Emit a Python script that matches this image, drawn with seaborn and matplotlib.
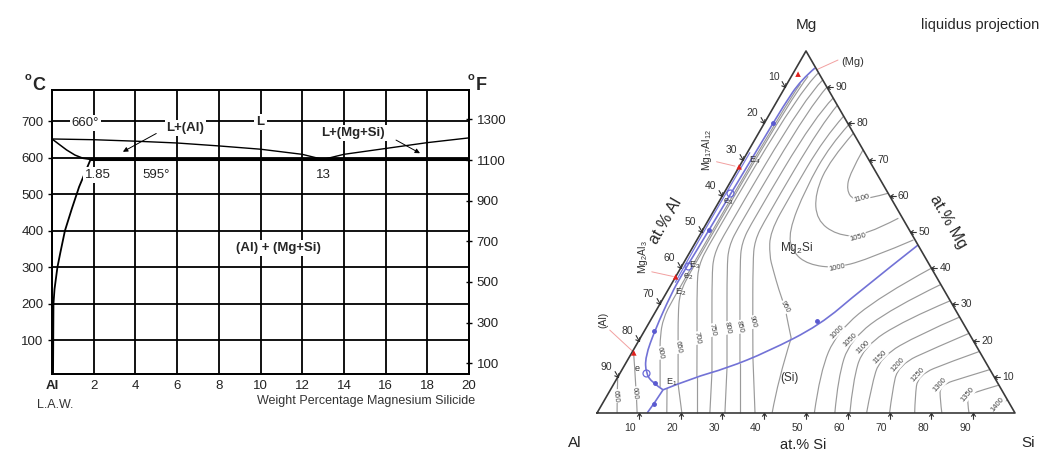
import numpy as np
import matplotlib
matplotlib.use("Agg")
import matplotlib.pyplot as plt
import seaborn as sns
from matplotlib.path import Path
from matplotlib.patches import PathPatch
from matplotlib.transforms import Affine2D

sns.set_theme(style="white")
plt.rcParams['font.family'] = ['Liberation Sans', 'DejaVu Sans']
plt.rcParams['mathtext.fontset'] = 'custom'
plt.rcParams['mathtext.rm'] = 'Liberation Sans'
plt.rcParams['mathtext.it'] = 'Liberation Sans:italic'
plt.rcParams['mathtext.bf'] = 'Liberation Sans:bold'

# ---------------- left: Al - Mg2Si section (wt% Mg2Si, deg C) ----------------
liq_al_x = [0, 2, 4, 6, 8, 10, 12, 13]
liq_al_t = [651, 649, 645, 640, 632, 623, 609, 595]
liq_mg_x = [13, 14, 16, 18, 20]
liq_mg_t = [595, 609, 625, 641, 654]
sol_x = [0, 0.35, 0.7, 1.1, 1.5, 1.85]
sol_t = [651, 636, 621, 607, 598, 595]
solvus_x = [1.85, 1.3, 0.95, 0.62, 0.4, 0.26, 0.12, 0.07, 0.05]
solvus_t = [595, 520, 460, 400, 340, 300, 240, 200, 8]
eut_x = [1.85, 20]
eut_t = [595, 595]
c_ticks = [100, 200, 300, 400, 500, 600, 700]
f_ticks = [100, 300, 500, 700, 900, 1100, 1300]
wt_ticks = [0, 2, 4, 6, 8, 10, 12, 14, 16, 18, 20]
wt_labels = ['Al', '2', '4', '6', '8', '10', '12', '14', '16', '18', '20']

# ---------------- right: Al-Mg-Si liquidus projection (at.% Si, at.% Mg) ----------------
tern_ticks = [10, 20, 30, 40, 50, 60, 70, 80, 90]

blue_mg_side = [(4.5, 95.3), (2.8, 92), (2.2, 85), (2.0, 75), (1.8, 65), (1.6, 55), (1.4, 45),
                (1.2, 38), (1.3, 33), (2.4, 23), (3.8, 15.5), (6.2, 11), (9.0, 8.4), (12.6, 6.4)]
blue_edge = [(0.6, 72), (0.5, 60), (0.5, 48), (0.7, 36)]
blue_al_si = [(12.6, 6.4), (12.4, 3.0), (12.0, 0)]
blue_mg2si_si = [(12.6, 6.4), (18.1, 9.7), (24.9, 12.4), (32.3, 16.9), (41.2, 24.3), (46.0, 33.7), (53.6, 46.4)]

# isotherms in the Mg2Si field: 600 ... 1100
mg2si_lines = [
    [(3.2, 91), (2.5, 86), (2.4, 31.7), (2.8, 25.7), (5.2, 19.7), (6.8, 16.6), (11.5, 7.2)],
    [(4.0, 93), (3.0, 88), (2.8, 39.2), (3.2, 33.2), (5.8, 27.2), (10.3, 18.2), (15.4, 8.0)],
    [(6, 94), (4, 89), (3.5, 46.8), (3.9, 40.8), (6.5, 34.8), (13.6, 20.7), (18.9, 10.0)],
    [(8, 92), (6.2, 87), (5.7, 49.6), (6.1, 43.6), (8.7, 37.6), (16.05, 22.9), (21.9, 11.2)],
    [(10, 90), (8.6, 85), (8.1, 52), (8.5, 46), (11.1, 40), (19.35, 23.5), (24.9, 12.4)],
    [(13, 87), (11.2, 82), (10.7, 53), (11.1, 47), (13.7, 41), (22.3, 23.8), (27.25, 13.9)],
    [(15, 85), (13.8, 80), (13.5, 53.6), (13.9, 47.6), (16.5, 41.6), (24.7, 25.1), (29.65, 15.3)],
    [(18, 82), (16.4, 76), (16.2, 60), (16.4, 50), (19.5, 43.5), (22.4, 39.5), (26.5, 34),
     (30.3, 29.3), (33.5, 24.5), (36.1, 20.7)],
    [(20.4, 79.6), (18.8, 74), (18.9, 62), (20.8, 50), (24.5, 44.5), (30, 41), (37.4, 40),
     (44.5, 43), (51.8, 47.8)],
    [(22.7, 77.3), (20.8, 69.9), (21.8, 60.7), (25.9, 53.3), (32.7, 49.2), (39.3, 48.7), (45.2, 53.8)],
    [(27.3, 72.7), (27.4, 66.2), (28.9, 61.6), (31.9, 58.8), (35.6, 59.3), (39.3, 60.7)],
]
# isotherms in the Si field
si_low_lines = [
    [(13.35, 6.8), (16.7, 0)],
    [(15.4, 8.0), (20.3, 0)],
    [(18.9, 10.0), (23.9, 0)],
    [(21.9, 11.2), (27.0, 0)],
    [(24.9, 12.4), (30.6, 0)],
    [(27.25, 13.9), (34.2, 0)],
    [(29.65, 15.3), (37.8, 0)],
    [(36.1, 20.7), (38.75, 9.1), (41.9, 0)],
]
si_arcs = [
    [(52, 0), (47.7, 11.3), (46.2, 22.4), (51.6, 32.3), (60, 40)],
    [(56.9, 0), (52.8, 9.7), (50.4, 20.2), (56.1, 29), (64.5, 35.5)],
    [(60.5, 0), (56.9, 8.6), (54.5, 18.2), (60.8, 25.7), (69, 31)],
    [(64.5, 0), (62, 7.2), (60, 15.5), (66.4, 21.8), (73.5, 26.5)],
    [(70, 0), (67.7, 5.8), (65.4, 13.3), (71.9, 18), (78, 22)],
    [(76, 0), (73.9, 4.4), (71.5, 10.5), (77.4, 14.1), (83, 17)],
    [(82.5, 0), (80.3, 3.6), (78.2, 7.7), (83.1, 9.9), (88, 12)],
    [(89, 0), (87.4, 2.5), (86.3, 5), (89.1, 6.4), (92.3, 7.7)],
    [(95, 0), (94.8, 2.2), (96.4, 3.6)],
]
al_lines = [
    [(0, 9.9), (2.3, 5), (4.8, 0)],
    [(0, 17.4), (5.5, 7.7), (9.6, 0)],
]

iso_lab_text = ['600', '650', '700', '750', '800', '850', '900', '950', '1000', '1050', '1100',
                '1000', '1050', '1100', '1150', '1200', '1250', '1300', '1350', '1400', '650', '600']
iso_lab_si = [6.8, 10.3, 13.6, 16.05, 19.35, 22.3, 24.7, 30.3, 37.4, 38.1, 33.7,
              46.2, 50.4, 54.5, 60, 65.4, 71.5, 78.2, 86.3, 94.8, 2.2, 6.35]
iso_lab_mg = [16.6, 18.2, 20.7, 22.9, 23.5, 23.8, 25.1, 29.3, 40, 48.6, 59.3,
              22.4, 20.2, 18.2, 15.5, 13.3, 10.5, 7.7, 5, 2.2, 4.7, 5.5]
iso_lab_rot = [-80, -80, -80, -78, -78, -76, -75, -62, 12, 15, 15,
               45, 45, 45, 45, 48, 48, 48, 50, 50, -85, -85]

red_si = [1.3, 0.0, 0.0, 0.5]
red_mg = [93.6, 68.0, 37.6, 16.6]
leaders = [[(5.1, 94.8), (8.9, 97.5)], [(-6.1, 69.4), (-1.1, 68.2)],
           [(-6.4, 39.0), (-0.6, 37.7)], [(-8.4, 22.9), (0.5, 16.7)]]
dot_si = [2.0, 1.4, 2.3, 9.7, 12.3, 39.9]
dot_mg = [80.0, 50.6, 22.7, 8.4, 2.5, 25.4]
circ_si = [6.2, 1.5, 1.5]
circ_mg = [11.0, 40.6, 60.7]

pt_text = [r'E$_4$', r'e$_3$', r'E$_3$', r'e$_2$', r'E$_2$', 'e', r'E$_1$']
pt_si = [2.9, 2.2, 3.0, 3.0, 3.2, 3.4, 13.6]
pt_mg = [69.9, 58.3, 40.9, 37.6, 33.4, 12.4, 8.6]


def tern(si, mg):
    si = np.asarray(si, dtype=float)
    mg = np.asarray(mg, dtype=float)
    return si + mg / 2.0, mg * np.sqrt(3) / 2.0


def draw_curve(ax, pts, **kw):
    si, mg = zip(*pts)
    x, y = tern(si, mg)
    n = len(x)
    verts = [(x[0], y[0])]
    codes = [Path.MOVETO]
    if n == 2:
        verts.append((x[1], y[1]))
        codes.append(Path.LINETO)
    for i in range(1, n - 1):
        if i == n - 2:
            end = (x[i + 1], y[i + 1])
        else:
            end = ((x[i] + x[i + 1]) / 2, (y[i] + y[i + 1]) / 2)
        verts += [(x[i], y[i]), end]
        codes += [Path.CURVE3, Path.CURVE3]
    ax.add_patch(PathPatch(Path(verts, codes), fill=False, **kw))


def tick_marker(angle):
    p = Path([(0, 0), (-0.7, 0.5), (0, 0), (-0.7, -0.5), (0, 0), (-1.4, 0)],
             [Path.MOVETO, Path.LINETO, Path.MOVETO, Path.LINETO, Path.MOVETO, Path.LINETO])
    return p.transformed(Affine2D().rotate_deg(angle))


fig = plt.figure(figsize=(10.44, 4.54), dpi=100)

# ================= left panel =================
ax1 = fig.add_axes([52 / 1044, 1 - 374 / 454, 417 / 1044, 284 / 454])
for xs, ts, lw in [(liq_al_x, liq_al_t, 1.0), (liq_mg_x, liq_mg_t, 1.0), (sol_x, sol_t, 1.1),
                   (solvus_x, solvus_t, 1.3), (eut_x, eut_t, 2.2)]:
    sns.lineplot(x=xs, y=ts, ax=ax1, color='black', linewidth=lw, sort=False, estimator=None)
ax1.set_xlim(0, 20)
ax1.set_ylim(8, 785)
ax1.set_xticks(wt_ticks)
ax1.set_xticklabels(wt_labels, fontsize=9.5)
ax1.get_xticklabels()[0].set_fontweight('bold')
ax1.set_yticks(c_ticks)
ax1.set_yticklabels([str(t) for t in c_ticks], fontsize=9.5)
ax1.grid(True, color='black', linewidth=1.3)
ax1.set_axisbelow(True)
ax1.tick_params(axis='x', length=0, pad=4, colors='#222')
ax1.tick_params(axis='y', left=True, length=3, width=1, color='black', pad=3, labelcolor='#222')
for s in ax1.spines.values():
    s.set_color('black')
    s.set_linewidth(1.3)

ax2 = ax1.twinx()
ax2.set_ylim(8 * 1.8 + 32, 785 * 1.8 + 32)
ax2.set_yticks(f_ticks)
ax2.set_yticklabels([str(t) for t in f_ticks], fontsize=9.5)
ax2.tick_params(axis='y', right=True, direction='inout', length=5, width=1, color='black',
                pad=3, labelcolor='#222')
ax2.grid(False)
for s in ax2.spines.values():
    s.set_color('black')
    s.set_linewidth(1.3)

wb = dict(boxstyle='square,pad=0.15', fc='white', ec='none')
ax1.text(1.6, 695, '660°', ha='center', va='center', fontsize=9.5, color='#222', bbox=wb)
ax1.text(6.4, 681, 'L+(Al)', ha='center', va='center', fontsize=9.5, fontweight='bold', bbox=wb)
ax1.text(10.0, 698, 'L', ha='center', va='center', fontsize=9.5, fontweight='bold', bbox=wb)
ax1.text(14.45, 667, 'L+(Mg+Si)', ha='center', va='center', fontsize=9.5, fontweight='bold', bbox=wb)
ax1.text(2.2, 552, '1.85', ha='center', va='center', fontsize=9.5, color='#222', bbox=wb)
ax1.text(5.0, 552, '595°', ha='center', va='center', fontsize=9.5, color='#222', bbox=wb)
ax1.text(13.0, 552, '13', ha='center', va='center', fontsize=9.5, color='#222', bbox=wb)
ax1.text(10.85, 352, '(Al) + (Mg+Si)', ha='center', va='center', fontsize=9.5,
         fontweight='bold', bbox=wb)
arr = dict(arrowstyle='-|>', color='black', lw=0.7, mutation_scale=7, shrinkA=0, shrinkB=0)
ax1.annotate('', xy=(3.4, 616), xytext=(5.0, 666), arrowprops=arr)
ax1.annotate('', xy=(17.65, 612), xytext=(16.5, 648), arrowprops=arr)

fig.text(28 / 1044, 1 - 77 / 454, 'o', fontsize=8, fontweight='bold', ha='center', va='center')
fig.text(39 / 1044, 1 - 86 / 454, 'C', fontsize=13, fontweight='bold', ha='center', va='center')
fig.text(471 / 1044, 1 - 77 / 454, 'o', fontsize=8, fontweight='bold', ha='center', va='center')
fig.text(481 / 1044, 1 - 86 / 454, 'F', fontsize=13, fontweight='bold', ha='center', va='center')
fig.text(55 / 1044, 1 - 405 / 454, 'L.A.W.', fontsize=9, ha='center', va='center', color='#333')
fig.text(475 / 1044, 1 - 401 / 454, 'Weight Percentage Magnesium Silicide', fontsize=9,
         ha='right', va='center', color='#333')

# ================= right panel: ternary =================
ax3 = fig.add_axes([540 / 1044, 0, 504 / 1044, 1])
ax3.set_xlim(-13.64, 106.94)
ax3.set_ylim(-9.81, 98.8)
ax3.axis('off')

tx, ty = tern([0, 100, 0, 0], [0, 0, 100, 0])
ax3.plot(tx, ty, color='#3a3a3a', lw=1.2, zorder=5)

gray = dict(edgecolor='#9a9a9a', lw=0.85, zorder=2)
for pts in mg2si_lines + si_low_lines + si_arcs + al_lines:
    draw_curve(ax3, pts, **gray)

blue = dict(edgecolor='#7272d6', lw=1.2, zorder=4)
for pts in [blue_mg_side, blue_al_si, blue_mg2si_si]:
    draw_curve(ax3, pts, **blue)
draw_curve(ax3, blue_edge, edgecolor='#7a7ae0', lw=0.9, zorder=4)

lx, ly = tern(iso_lab_si, iso_lab_mg)
for t, x, y, r in zip(iso_lab_text, lx, ly, iso_lab_rot):
    ax3.text(x, y, t, fontsize=5.5, rotation=r, ha='center', va='center', color='#444',
             rotation_mode='anchor', zorder=3,
             bbox=dict(boxstyle='square,pad=0.05', fc='white', ec='none'))

for pts in leaders:
    si, mg = zip(*pts)
    x, y = tern(si, mg)
    ax3.plot(x, y, color='#f2a0a0', lw=0.7, zorder=3)
rx, ry = tern(red_si, red_mg)
sns.scatterplot(x=rx, y=ry, ax=ax3, marker='^', color='#e0201c', s=16, edgecolor='none', zorder=6)
dx, dy = tern(dot_si, dot_mg)
ax3.plot(dx, dy, ls='none', marker='o', ms=2.5, color='#5a5ad0', zorder=6)
cx, cy = tern(circ_si, circ_mg)
ax3.plot(cx, cy, ls='none', marker='o', ms=5, mfc='none', mec='#6a6ad8', mew=0.9, zorder=6)

# edge ticks
ticks = np.array(tern_ticks, dtype=float)
bx, by = tern(ticks, 0 * ticks)
ax3.plot(bx, by, ls='none', marker=tick_marker(90), ms=9, mfc='none', mec='#333', mew=0.8, zorder=6)
rgx, rgy = tern(100 - ticks, ticks)
ax3.plot(rgx, rgy, ls='none', marker=tick_marker(180), ms=9, mfc='none', mec='#333', mew=0.8, zorder=6)
lgx, lgy = tern(0 * ticks, 100 - ticks)
ax3.plot(lgx, lgy, ls='none', marker=tick_marker(-60), ms=9, mfc='none', mec='#333', mew=0.8, zorder=6)
for t, x, y in zip(tern_ticks, bx, by):
    ax3.annotate(str(t), (x, y), xytext=(-6, -10.6), textcoords='offset points',
                 ha='center', va='center', fontsize=7.5, color='#333')
for t, x, y in zip(tern_ticks, rgx, rgy):
    ax3.annotate(str(t), (x, y), xytext=(6, 0), textcoords='offset points',
                 ha='left', va='center', fontsize=7.5, color='#333')
for t, x, y in zip(tern_ticks, lgx, lgy):
    ax3.annotate(str(t), (x, y), xytext=(-8.3, 7.2), textcoords='offset points',
                 ha='center', va='center', fontsize=7.5, color='#333')

vx, vy = tern([0, 100, 0], [0, 0, 100])
ax3.annotate('Al', (vx[0], vy[0]), xytext=(-15.8, -21.6), textcoords='offset points',
             ha='center', va='center', fontsize=11)
ax3.annotate('Si', (vx[1], vy[1]), xytext=(9.6, -21.8), textcoords='offset points',
             ha='center', va='center', fontsize=11)
ax3.annotate('Mg', (vx[2], vy[2]), xytext=(0, 18.7), textcoords='offset points',
             ha='center', va='center', fontsize=11)
ax3.annotate('at.% Si', tern(49.4, 0), xytext=(0, -23), textcoords='offset points',
             ha='center', va='center', fontsize=10.5)
ax3.text(16.3, 45.8, 'at.% Al', rotation=60, ha='center', va='center', fontsize=11.5)
ax3.text(84.0, 45.8, 'at.% Mg', rotation=-60, ha='center', va='center', fontsize=11.5)
ax3.text(91.6, 92.8, 'liquidus projection', ha='center', va='center', fontsize=10.5)

ax3.text(*tern(25.0, 45.5), r'Mg$_2$Si', ha='center', va='center', fontsize=8.5, color='#333')
ax3.text(*tern(41.3, 9.7), '(Si)', ha='center', va='center', fontsize=8.5, color='#333')
ax3.text(*tern(-11.4, 25.7), '(Al)', rotation=90, ha='center', va='center', fontsize=7.5, color='#333')
ax3.text(*tern(12.7, 97.0), '(Mg)', ha='center', va='center', fontsize=8, color='#333')
ax3.text(*tern(-10.0, 72.7), r'Mg$_{17}$Al$_{12}$', rotation=90, ha='center', va='center',
         fontsize=7.5, color='#333')
ax3.text(*tern(-10.5, 43.1), r'Mg$_2$Al$_3$', rotation=90, ha='center', va='center',
         fontsize=7.5, color='#333')
px, py = tern(pt_si, pt_mg)
for t, x, y in zip(pt_text, px, py):
    ax3.text(x, y, t, ha='center', va='center', fontsize=6.5, color='#333', zorder=7)

fig.savefig('out.png', dpi=100)
